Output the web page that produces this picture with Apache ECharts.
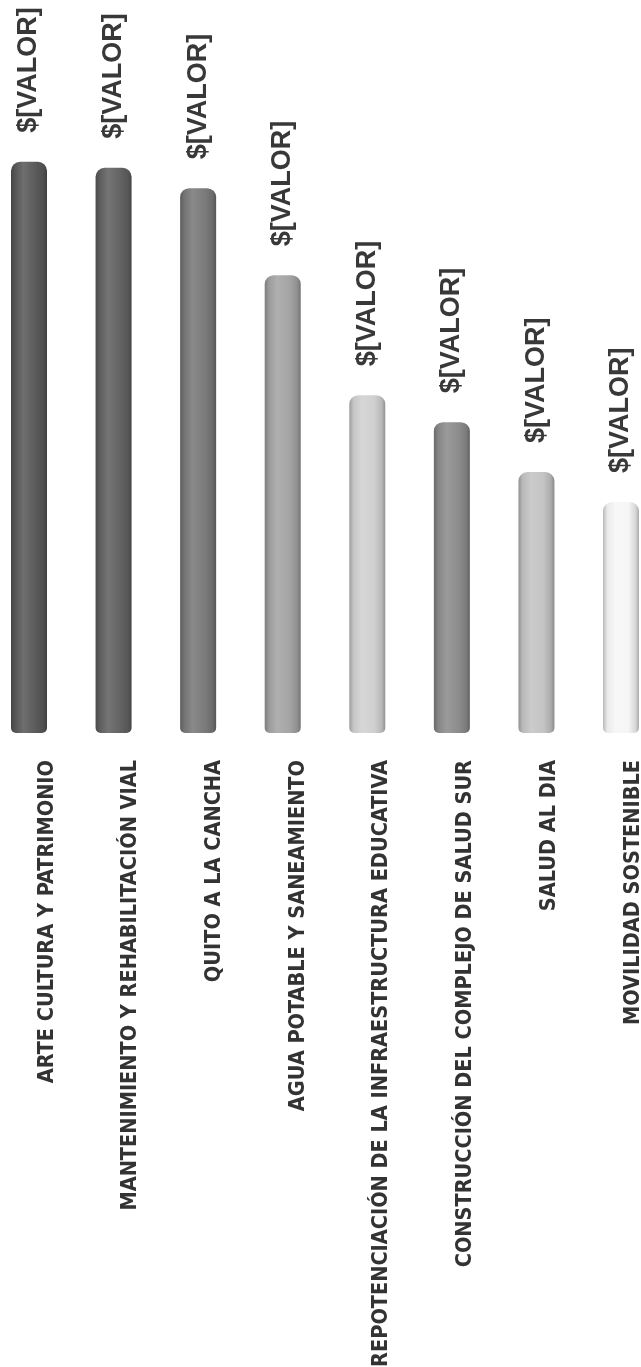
<!DOCTYPE html>
<html>
<head>
<meta charset="utf-8">
<script src="https://cdn.jsdelivr.net/npm/echarts@6/dist/echarts.min.js"></script>
<style>
html, body { margin: 0; padding: 0; background: #fff; }
#chart { width: 641px; height: 1367px; }
</style>
</head>
<body>
<div id="chart"></div>
<script>
// categorías y valores
const categories = [
    'ARTE CULTURA Y PATRIMONIO',
    'MANTENIMIENTO Y REHABILITACIÓN VIAL',
    'QUITO A LA CANCHA',
    'AGUA POTABLE Y SANEAMIENTO',
    'REPOTENCIACIÓN DE LA INFRAESTRUCTURA EDUCATIVA',
    'CONSTRUCCIÓN DEL COMPLEJO DE SALUD SUR',
    'SALUD AL DIA',
    'MOVILIDAD SOSTENIBLE'
];
const values = [95.2, 94.2, 90.8, 76.3, 56.3, 51.8, 43.5, 38.5];
const valueLabel = '$[VALOR]';

// tonos de gris de cada cilindro
const tones = ['#5a5a5a', '#626262', '#7a7a7a', '#a4a4a4', '#d0d0d0', '#8c8c8c', '#c4c4c4', '#f6f6f6'];

// mezcla un color hex con blanco (k>0) o negro (k<0)
function shade(hex, k) {
    const n = parseInt(hex.slice(1), 16);
    let rgb = [(n >> 16) & 255, (n >> 8) & 255, n & 255];
    rgb = rgb.map(function (c) {
        return Math.round(k > 0 ? c + (255 - c) * k : c * (1 + k));
    });
    return 'rgb(' + rgb.join(',') + ')';
}

// degradado horizontal para dar efecto de cilindro
function cylinder(hex) {
    return new echarts.graphic.LinearGradient(0, 0, 1, 0, [
        { offset: 0, color: shade(hex, -0.25) },
        { offset: 0.12, color: shade(hex, -0.05) },
        { offset: 0.35, color: shade(hex, 0.12) },
        { offset: 0.7, color: hex },
        { offset: 0.9, color: shade(hex, -0.12) },
        { offset: 1, color: shade(hex, -0.3) }
    ]);
}

const dom = document.getElementById('chart');
const myChart = echarts.init(dom, null, { renderer: 'canvas' });

const option = {
    animation: false,
    backgroundColor: '#fff',
    grid: [
        // barras
        { left: 29, right: 20, top: 133, bottom: 634, outerBoundsMode: 'none', containLabel: false },
        // etiquetas de categoría
        { left: 47, right: 8, top: 133, bottom: 634, outerBoundsMode: 'none', containLabel: false }
    ],
    xAxis: [
        {
            gridIndex: 0,
            type: 'category',
            data: categories,
            boundaryGap: false,
            axisLine: { show: false },
            axisTick: { show: false },
            axisLabel: { show: false }
        },
        {
            gridIndex: 1,
            type: 'category',
            data: categories,
            boundaryGap: false,
            axisLine: { show: false },
            axisTick: { show: false },
            axisLabel: {
                interval: 0,
                rotate: 90,
                margin: 27,
                fontSize: 21.5,
                fontWeight: 'bold',
                fontFamily: '"DejaVu Sans Condensed", "DejaVu Sans", sans-serif',
                color: '#333333'
            }
        }
    ],
    yAxis: [
        { gridIndex: 0, type: 'value', min: 0, max: 100, show: false },
        { gridIndex: 1, type: 'value', min: 0, max: 100, show: false }
    ],
    series: [
        {
            type: 'bar',
            xAxisIndex: 0,
            yAxisIndex: 0,
            barWidth: 36,
            data: values.map(function (v, i) {
                return { value: v, itemStyle: { color: cylinder(tones[i]) } };
            }),
            itemStyle: {
                borderRadius: [9, 9, 5, 5]
            },
            label: {
                show: true,
                position: 'top',
                distance: 29,
                rotate: 90,
                align: 'left',
                verticalAlign: 'middle',
                formatter: valueLabel,
                fontSize: 27,
                fontWeight: 'bold',
                fontFamily: '"Liberation Sans", Arial, sans-serif',
                color: '#383838'
            }
        }
    ]
};

myChart.setOption(option, true);
</script>
</body>
</html>
